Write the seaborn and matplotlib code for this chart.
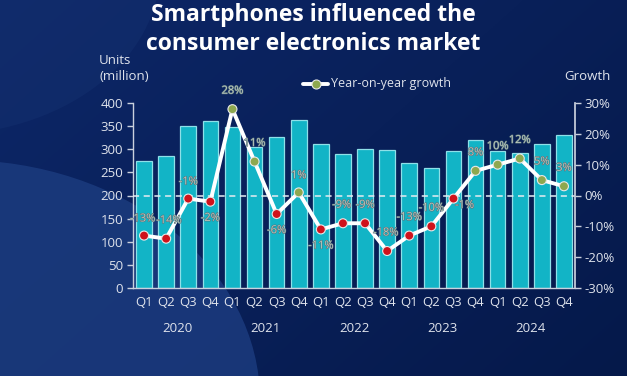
import numpy as np
import pandas as pd
import matplotlib
matplotlib.use("Agg")
import matplotlib.pyplot as plt
import seaborn as sns
from matplotlib.patches import Ellipse
import matplotlib.transforms as mtransforms
import matplotlib.patheffects as pe

# ---- data ----
years = ["2020", "2021", "2022", "2023", "2024"]
quarters = ["Q1", "Q2", "Q3", "Q4"]
units = [274, 286, 350, 361, 348, 305, 327, 364, 312, 289, 300, 298,
         271, 260, 297, 320, 297, 291, 312, 330]
growth = [-13, -14, -1, -2, 28, 11, -6, 1, -11, -9, -9, -18,
          -13, -10, -1, 8, 10, 12, 5, 3]
growth_labels = ["-13%", "-14%", "-1%", "-2%", "28%", "11%", "-6%", "1%",
                 "-11%", "-9%", "-9%", "-18%", "-13%", "-10%", "-1%", "8%",
                 "10%", "12%", "5%", "3%"]

pos = np.arange(len(units))
df = pd.DataFrame({"pos": pos, "units": units, "growth": growth,
                   "sign": ["neg" if g < 0 else "pos" for g in growth]})

sns.set_theme(style="white")
plt.rcParams['font.family'] = ['Open Sans', 'DejaVu Sans']

W, H = 6.27, 3.76
fig = plt.figure(figsize=(W, H), dpi=100)

# ---- background ----
bg = fig.add_axes([0, 0, 1, 1], zorder=-10)
yy, xx = np.mgrid[0:1:200j, 0:1:300j]
c_a = np.array([0x0d, 0x27, 0x68]) / 255
c_b = np.array([0x05, 0x19, 0x4a]) / 255
t = np.clip(0.6 * xx + 0.4 * yy, 0, 1)[..., None]
img = c_a * (1 - t) + c_b * t
bg.imshow(img, extent=[0, 627, 376, 0], aspect="auto")
bg.add_patch(Ellipse((-60, -30), 440, 330, color="#14306f", alpha=0.5, lw=0))
bg.add_patch(Ellipse((-40, 400), 600, 480, color="#1b3b7e", alpha=0.85, lw=0))
bg.set_xlim(0, 627); bg.set_ylim(376, 0)
bg.axis("off")

txt = "#dfe3ec"
spine_c = "#c9d0dd"

ax = fig.add_axes([133 / 627, 1 - 288 / 376, (575 - 133) / 627, (288 - 103) / 376])
ax.set_facecolor("none")
sns.barplot(data=df, x="pos", y="units", ax=ax, color="#12b4c6",
            edgecolor="#8ee0e8", linewidth=0.9, width=0.71, saturation=1)
ax.set_xlim(-0.5, 19.5)
ax.set_ylim(0, 400)
ax.set_yticks(range(0, 401, 50))
ax.set_xticks(pos)
ax.set_xticklabels([q for y in years for q in quarters])
ax.set_xlabel(""); ax.set_ylabel("")
for s in ["top", "right"]:
    ax.spines[s].set_visible(False)
for s in ["left", "bottom"]:
    ax.spines[s].set_color(spine_c)
    ax.spines[s].set_linewidth(1.0)
ax.tick_params(axis="y", colors=txt, labelsize=9.5, length=4, width=1, color=spine_c, pad=3, direction="out", left=True)
ax.tick_params(axis="x", colors=txt, labelsize=9.5, length=0, pad=6)

trans = mtransforms.blended_transform_factory(ax.transData, fig.transFigure)
for i, y in enumerate(years):
    ax.text(i * 4 + 1.5, 1 - 328 / 376, y, transform=trans, ha="center", va="center",
            color=txt, fontsize=9.5)

# ---- growth axis ----
ax2 = ax.twinx()
ax2.set_ylim(-30, 30)
ax2.set_yticks([-30, -20, -10, 0, 10, 20, 30])
ax2.set_yticklabels([f"{v}%" for v in [-30, -20, -10, 0, 10, 20, 30]])
for s in ["top", "left", "bottom"]:
    ax2.spines[s].set_visible(False)
ax2.spines["right"].set_color(spine_c)
ax2.tick_params(axis="y", colors=txt, labelsize=9.5, length=4, width=1, color=spine_c, pad=3, direction="out", right=True)
ax2.axhline(0, color="#e6ecf2", lw=1.1, ls=(0, (4, 3)), zorder=1)

sns.lineplot(data=df, x="pos", y="growth", ax=ax2, color="white", lw=2.8,
             legend=False, zorder=3)
sns.scatterplot(data=df, x="pos", y="growth", hue="sign", ax=ax2,
                palette={"neg": "#d0121b", "pos": "#8ea84f"}, s=42,
                edgecolor="#e8e8e8", linewidth=0.8, legend=False, zorder=4)
ax2.set_xlabel(""); ax2.set_ylabel("")
ax2.set_xlim(-0.5, 19.5)

offsets = [(-1, 8), (2, 9), (0, 8), (0, -12), (0, 9), (0, 9), (0, -12), (0, 8),
           (0, -12), (-1, 9), (0, 9), (-1, 9), (0, 9), (0, 9), (8, -5), (0, 9),
           (0, 9), (0, 9), (0, 9), (0, 9)]
for x, g, lab, off in zip(pos, growth, growth_labels, offsets):
    ax2.annotate(lab, (x, g), xytext=off, textcoords="offset points",
                 ha="center", va="bottom" if off[1] > 0 else "center",
                 color="#bcc8bc", fontsize=8, zorder=5,
                 path_effects=[pe.withStroke(linewidth=0.8, foreground="#55707a")])

# ---- legend / axis titles ----
fig.add_artist(plt.Line2D([303 / 627, 328 / 627], [1 - 84 / 376] * 2, color="white",
                          lw=2.8, transform=fig.transFigure))
fig.add_artist(plt.Line2D([315.5 / 627], [1 - 84 / 376], marker="o", ms=6.5,
                          mfc="#8ea84f", mec="#e8e8e8", mew=0.8, transform=fig.transFigure))
fig.text(331 / 627, 1 - 84 / 376, "Year-on-year growth", color=txt, fontsize=9,
         ha="left", va="center")
fig.text(99 / 627, 1 - 68 / 376, "Units\n(million)", color=txt, fontsize=9.5,
         ha="left", va="center", linespacing=1.3)
fig.text(587 / 627, 1 - 77 / 376, "Growth", color=txt, fontsize=9.5, ha="center", va="center")

fig.text(0.5, 1 - 29.5 / 376, "Smartphones influenced the\nconsumer electronics market",
         color="white", fontsize=16.5, fontweight="bold", ha="center", va="center",
         linespacing=1.3)

fig.savefig("out.png", dpi=100)
